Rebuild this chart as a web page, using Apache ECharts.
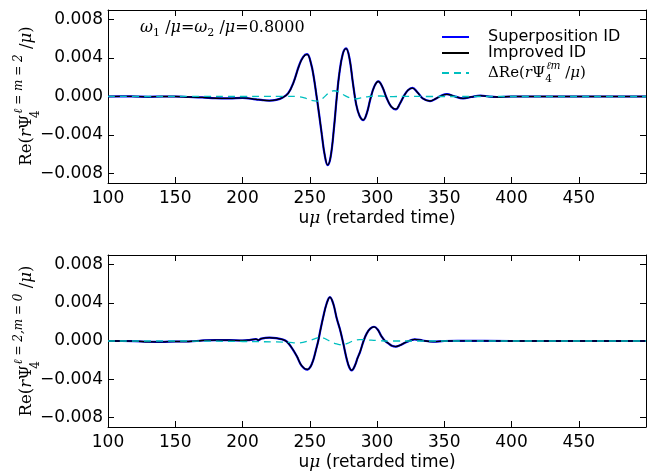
<!DOCTYPE html>
<html>
<head>
<meta charset="utf-8">
<script src="https://cdn.jsdelivr.net/npm/echarts@6/dist/echarts.min.js"></script>
<style>
  html, body { margin: 0; padding: 0; background: #fff; }
  #chart { width: 667px; height: 475px; }
</style>
</head>
<body>
<div id="chart"></div>
<script>
// values are in units of 1e-3
const topU = [100,110,120,130,140,150,160,170,180,190,200,210,215,220,225,230,234,238,242,245,248,251,253,255,257,259,261,263.3,265.5,268,270,272,274.5,277,279.5,282,284.5,287,289.8,292.5,295,298,301,304,307,310.5,314,317,320,323,326.3,330,334,339.4,344,348,352,357,364,370,377,383,389,400,420,450,500];
const topSuper = [0,0.02,0,-0.03,0,0,-0.05,-0.1,-0.18,-0.2,-0.15,-0.3,-0.38,-0.42,-0.35,-0.1,0.35,1.5,3.2,4.1,4.4,3.4,2.0,0.1,-1.9,-4.0,-6.0,-7.15,-6.3,-3.3,-0.2,2.4,4.4,5.0,4.0,1.5,-0.8,-2.0,-2.45,-1.7,-0.3,1.05,1.57,1.0,-0.1,-1.05,-1.33,-0.75,0.05,0.65,0.89,0.45,-0.2,-0.48,-0.2,0.1,0.24,0.05,-0.2,-0.05,0.1,0,-0.05,0,0,0,0];
const topImproved = [0,0.02,0,-0.03,0,0,-0.05,-0.1,-0.18,-0.2,-0.15,-0.3,-0.38,-0.42,-0.35,-0.1,0.33,1.48,3.18,4.08,4.38,3.4,2.0,0.12,-1.88,-3.98,-5.98,-7.12,-6.28,-3.3,-0.2,2.38,4.38,4.98,4.0,1.5,-0.8,-2.0,-2.43,-1.7,-0.3,1.04,1.56,1.0,-0.1,-1.04,-1.32,-0.75,0.05,0.65,0.88,0.45,-0.2,-0.47,-0.2,0.1,0.23,0.05,-0.2,-0.05,0.1,0,-0.05,0,0,0,0];
const topDeltaU = [100,130,160,200,230,240,246,251,256,260,264,268,272,276,280,284,288,292,297,303,310,320,340,400,500];
const topDelta = [0.02,0,0.02,0,0.02,0,-0.15,-0.4,-0.48,-0.15,0.35,0.6,0.45,0.1,-0.15,-0.25,-0.15,-0.05,0.05,0.05,-0.02,0.02,0,0,0];

const botU = [100,110,120,130,140,150,160,170,180,190,200,205,210,212,214,220,225,230,233,236.5,240.4,244,248.2,250.5,252.6,254.5,256.3,258,260,262.5,265,267.5,270,272.5,275,277.5,279.5,281.2,283.5,285.5,287.5,290,292.4,295,297.8,300.5,303.5,306,308.5,311,314,317,322,328,334,341.6,350,360,400,450,500];
const botSuper = [0,0,-0.02,-0.08,-0.1,-0.05,-0.05,0.05,0.1,0.1,0.05,0.1,0.2,0.1,0.25,0.35,0.3,0.15,-0.07,-0.7,-1.6,-2.6,-3.0,-2.7,-2.0,-1.0,0.0,1.2,2.5,3.9,4.6,3.9,2.4,1.2,-0.3,-1.9,-2.8,-3.08,-2.6,-1.8,-1.1,0.0,0.8,1.3,1.49,1.2,0.45,0.0,-0.24,-0.5,-0.59,-0.45,-0.1,0.18,0.05,-0.07,0,0.02,0,0,0];
const botImproved = [0,0,-0.02,-0.08,-0.1,-0.05,-0.05,0.05,0.1,0.1,0.05,0.1,0.2,0.1,0.25,0.35,0.3,0.15,-0.07,-0.68,-1.58,-2.58,-2.98,-2.7,-2.0,-1.0,0.0,1.18,2.48,3.88,4.58,3.9,2.4,1.2,-0.3,-1.88,-2.78,-3.06,-2.6,-1.8,-1.1,0.0,0.8,1.3,1.48,1.2,0.45,0.0,-0.24,-0.5,-0.58,-0.45,-0.1,0.18,0.05,-0.07,0,0.02,0,0,0];
const botDeltaU = [100,150,200,225,235,240,245,250,254,258,262,266,270,274,278,282,287,292,300,310,400,500];
const botDelta = [0,0,-0.05,-0.1,-0.15,-0.2,-0.15,0.05,0.25,0.38,0.2,-0.1,-0.3,-0.4,-0.25,0.0,0.15,0.12,0.05,0,0,0];

const xTicks = [100,150,200,250,300,350,400,450];
const yTicks = [-0.008,-0.004,0,0.004,0.008];

const UNIT = 1e-3;
function pairs(us, vs) {
  return us.map((u, i) => [u, vs[i] * UNIT]);
}

const sans = 'DejaVu Sans';
const serif = 'DejaVu Serif';
const BLUE = '#0000ff', BLACK = '#000000', CYAN = '#00bfbf';

let myChart = echarts.init(document.getElementById('chart'));

function xAxisPair(gridIndex) {
  const common = {
    type: 'value',
    gridIndex: gridIndex,
    min: 100,
    max: 500,
    splitLine: { show: false },
    axisLine: { onZero: false, lineStyle: { color: '#000', width: 1 } },
    axisTick: { inside: true, length: 6, customValues: xTicks, lineStyle: { color: '#000' } },
  };
  return [
    Object.assign({}, common, {
      position: 'bottom',
      axisLabel: { customValues: xTicks, color: '#000', fontFamily: sans, fontSize: 17, margin: 7 },
      name: '{s|u}{m|μ}{s| (retarded time)}',
      nameLocation: 'middle',
      nameGap: 27,
      nameTextStyle: {
        rich: {
          s: { fontFamily: sans, fontSize: 17, color: '#000' },
          m: { fontFamily: serif, fontStyle: 'italic', fontSize: 17, color: '#000' },
        },
      },
    }),
    Object.assign({}, common, {
      position: 'top',
      axisLabel: { show: false },
    }),
  ];
}

function yAxisPair(gridIndex) {
  const common = {
    type: 'value',
    gridIndex: gridIndex,
    min: -0.009,
    max: 0.009,
    splitLine: { show: false },
    axisLine: { show: true, onZero: false, lineStyle: { color: '#000', width: 1 } },
    axisTick: { inside: true, length: 6, customValues: yTicks, lineStyle: { color: '#000' } },
  };
  return [
    Object.assign({}, common, {
      position: 'left',
      axisLabel: {
        customValues: yTicks,
        color: '#000',
        fontFamily: sans,
        fontSize: 17,
        margin: 5,
        formatter: (v) => (v < 0 ? '\u2212' : '') + Math.abs(v).toFixed(3),
      },
    }),
    Object.assign({}, common, {
      position: 'right',
      axisLabel: { show: false },
    }),
  ];
}

function lines(gridNo, u, sup, imp, du, d) {
  const xi = gridNo * 2, yi = gridNo * 2;
  return [
    {
      name: 'Superposition ID', type: 'line', xAxisIndex: xi, yAxisIndex: yi,
      data: pairs(u, sup), smooth: 0.4, symbol: 'none',
      lineStyle: { color: BLUE, width: 2.2 }, itemStyle: { color: BLUE }, z: 2,
    },
    {
      name: 'Improved ID', type: 'line', xAxisIndex: xi, yAxisIndex: yi,
      data: pairs(u, imp), smooth: 0.4, symbol: 'none',
      lineStyle: { color: BLACK, width: 1.3 }, itemStyle: { color: BLACK }, z: 3,
    },
    {
      name: 'delta', type: 'line', xAxisIndex: xi, yAxisIndex: yi,
      data: pairs(du, d), smooth: 0.4, symbol: 'none',
      lineStyle: { color: CYAN, width: 1.3, type: [7, 5] }, itemStyle: { color: CYAN }, z: 4,
    },
  ];
}

// rich styles for the math-like labels
function mathRich(size, small, lh) {
  return {
    g: { width: 14 },
    s: { fontFamily: sans, fontSize: 16, color: '#000', lineHeight: 17 },
    r: { fontFamily: serif, fontSize: size, color: '#000', lineHeight: lh },
    i: { fontFamily: serif, fontStyle: 'italic', fontSize: size, color: '#000', lineHeight: lh },
    sub: { fontFamily: serif, fontSize: small, color: '#000', verticalAlign: 'bottom', lineHeight: small + 1, width: 1 },
    sup: { fontFamily: serif, fontStyle: 'italic', fontSize: small, color: '#000', verticalAlign: 'top', lineHeight: small + 2 },
  };
}

function yTitle(y, supText) {
  return {
    type: 'text',
    x: 27,
    y: y,
    rotation: Math.PI / 2,
    style: {
      text: '{r|Re(}{i|r}{r|Ψ}{sub|4}{sup|' + supText + '}{r| /}{i|μ}{r|)}',
      rich: mathRich(16.5, 12, 29),
      align: 'center',
      verticalAlign: 'middle',
    },
  };
}

let option = {
  animation: false,
  backgroundColor: '#fff',
  grid: [
    { left: 108, top: 10, width: 538, height: 173 },
    { left: 108, top: 255, width: 538, height: 172 },
  ],
  xAxis: xAxisPair(0).concat(xAxisPair(1)),
  yAxis: yAxisPair(0).concat(yAxisPair(1)),
  legend: {
    orient: 'vertical',
    left: 436,
    top: 24,
    itemWidth: 27,
    itemHeight: 12,
    itemGap: 0,
    selectedMode: false,
    itemStyle: { opacity: 0 },
    data: ['Superposition ID', 'Improved ID', 'delta'],
    formatter: (name) => name === 'delta'
      ? '{g|\u00a0}{r|ΔRe(}{i|r}{r|Ψ}{sub|4}{sup|ℓm}{r| /}{i|μ}{r|)}'
      : '{g|\u00a0}{s|' + name + '}',
    textStyle: {
      fontFamily: sans,
      fontSize: 16,
      color: '#000',
      rich: mathRich(15, 10.5, 24),
    },
  },
  graphic: [
    yTitle(96, 'ℓ = m = 2'),
    yTitle(341, 'ℓ = 2,m = 0'),
    {
      type: 'text',
      x: 140,
      y: 28,
      style: {
        text: '{i|ω}{sub|1}{r| /}{i|μ}{r|=}{i|ω}{sub|2}{r| /}{i|μ}{r|=0.8000}',
        rich: {
          r: { fontFamily: serif, fontSize: 16, color: '#000', lineHeight: 22 },
          i: { fontFamily: serif, fontStyle: 'italic', fontSize: 16, color: '#000', lineHeight: 22 },
          sub: { fontFamily: serif, fontSize: 11, color: '#000', verticalAlign: 'bottom', lineHeight: 14 },
        },
        align: 'left',
        verticalAlign: 'middle',
      },
    },
  ],
  series: lines(0, topU, topSuper, topImproved, topDeltaU, topDelta)
    .concat(lines(1, botU, botSuper, botImproved, botDeltaU, botDelta)),
};

myChart.setOption(option);
window.addEventListener('resize', () => {
  myChart.resize();
});
</script>
</body>
</html>
